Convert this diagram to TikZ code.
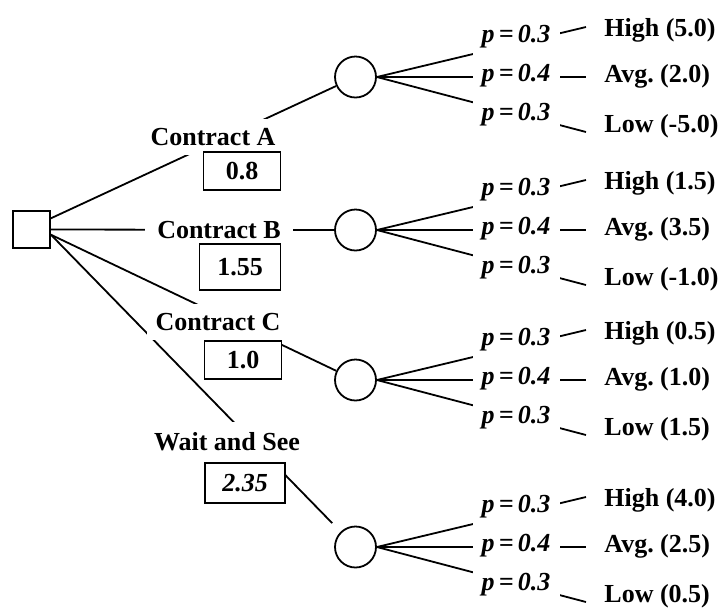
\documentclass[tikz,border=0pt]{standalone}
\usepackage{fontspec}
\setmainfont{Liberation Serif}
\usetikzlibrary{backgrounds}

\tikzset{
  branch/.style={line width=0.9pt},
  decision/.style={draw, line width=0.9pt, minimum size=18.5pt, inner sep=0pt},
  chance/.style={draw, circle, line width=0.9pt, minimum size=20.5pt, inner sep=0pt, fill=white},
  branchtxt/.style={fill=white, inner sep=4.5pt, font=\fontsize{13}{15}\selectfont\bfseries},
  valbox/.style={draw, fill=white, line width=0.9pt, minimum width=38.5pt, minimum height=19pt,
    inner sep=0pt, font=\fontsize{13}{15}\selectfont\bfseries},
  prob/.style={fill=white, inner sep=4.5pt, font=\fontsize{13}{15}\selectfont\bfseries\itshape},
  outcome/.style={anchor=west, inner sep=0pt, font=\fontsize{13}{15}\selectfont\bfseries}
}

\begin{document}
\frenchspacing
\begin{tikzpicture}[x=0.5pt, y=-0.5pt]
    \useasboundingbox (0,0) rectangle (722,607);

    % Decision and chance nodes
    \node[decision] (dec) at (31.5,229.5) {};
    \node[chance] (chA) at (355.5,77) {};
    \node[chance] (chB) at (355.5,230) {};
    \node[chance] (chC) at (355.5,380) {};
    \node[chance] (chW) at (355.5,547) {};

    % Alternatives and expected values
    \node[branchtxt] (txtA) at (213,137) {Contract A};
    \node[valbox] (valA) at (242,171) {0.8};
    \node[branchtxt, inner xsep=6pt] (txtB) at (219,230) {Contract B};
    \node[valbox, minimum width=40.5pt, minimum height=23pt] (valB) at (240,267) {1.55};
    \node[branchtxt] (txtC) at (218,322) {Contract C};
    \node[valbox] (valC) at (243,360) {1.0};
    \node[branchtxt, inner ysep=5.5pt] (txtW) at (227,442) {Wait and See};
    \node[valbox, minimum width=40pt, minimum height=20pt] (valW) at (245,483) {\itshape 2.35};

    % Probabilities and outcomes
    \foreach \n/\yc/\hi/\av/\lo in {A/77/5.0/2.0/-5.0, B/230/1.5/3.5/-1.0,
                                  C/380/0.5/1.0/1.5, W/547/4.0/2.5/0.5} {
      \node[prob] (pH\n) at (516,{\yc-40}) {p\,=\,0.3};
      \node[prob] (pA\n) at (516,{\yc-1}) {p\,=\,0.4};
      \node[prob] (pL\n) at (516,{\yc+38}) {p\,=\,0.3};
      \node[outcome] (oH\n) at (604,{\yc-47}) {High (\hi)};
      \node[outcome] (oA\n) at (604,{\yc-1}) {Avg. (\av)};
      \node[outcome] (oL\n) at (604,{\yc+49}) {Low (\lo)};
      \coordinate (eH\n) at (586,{\yc-50});
      \coordinate (eA\n) at (586,\yc);
      \coordinate (eL\n) at (586,{\yc+55});
    }

    % Branches
    \begin{scope}[on background layer]
      \draw[branch] (dec.30) -- (chA);
      \draw[branch] (dec.east) -- (chB);
      \draw[branch] (dec.-15) -- (chC);
      \draw[branch, shorten >=6pt] (dec.-15) -- (chW);
      \foreach \n in {A,B,C,W} {
        \draw[branch] (ch\n.east) -- (eH\n);
        \draw[branch] (ch\n.east) -- (eA\n);
        \draw[branch] (ch\n.east) -- (eL\n);
      }
    \end{scope}
\end{tikzpicture}
\end{document}
